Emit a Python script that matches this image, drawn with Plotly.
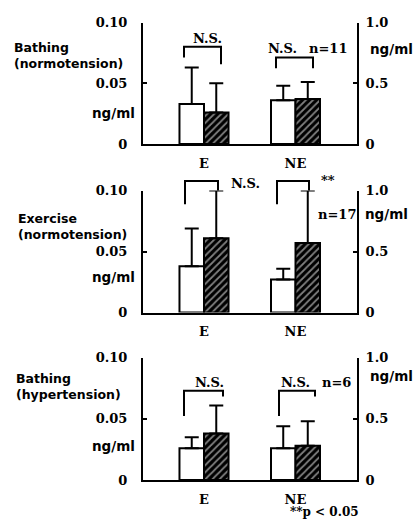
import plotly.graph_objects as go

W, H = 420, 526

# Plasma catecholamines before (open) and after (hatched) each stimulus
categories = ["E", "NE"]
panel_titles = [["Bathing", "(normotension)"],
                ["Exercise", "(normotension)"],
                ["Bathing", "(hypertension)"]]
n_labels = ["n=11", "n=17", "n=6"]

# E in ng/ml on the left scale (0-0.10), NE in ng/ml on the right scale (0-1.0)
e_before = [0.033, 0.038, 0.026]
e_before_sd = [0.030, 0.031, 0.009]
e_after = [0.026, 0.061, 0.038]
e_after_sd = [0.024, 0.039, 0.023]
ne_before = [0.36, 0.27, 0.26]
ne_before_sd = [0.12, 0.09, 0.18]
ne_after = [0.37, 0.57, 0.28]
ne_after_sd = [0.14, 0.43, 0.20]

sig_e = ["N.S.", "N.S.", "N.S."]
sig_ne = ["N.S.", "**", "N.S."]
footnote = "**p &lt; 0.05"

left_ticks = [0, 0.05, 0.10]
left_ticktext = ["0", "0.05", "0.10"]
right_ticks = [0, 0.5, 1.0]
right_ticktext = ["0", "0.5", "1.0"]

# pixel geometry of the three panels (top, bottom of the plotting area)
X0, X1 = 143, 357
panels_px = [(16, 141), (189, 314.5), (361, 487)]

SERIF = "DejaVu Serif"
SANS = "DejaVu Sans"


def fx(px):
    return px / W


def fy(py):
    return 1 - py / H


BAR_W = 0.268
fig = go.Figure()

for i in range(3):
    xa = "x" if i == 0 else f"x{i + 1}"
    yl = "y" if i == 0 else f"y{i + 1}"
    yr = f"y{i + 4}"
    specs = [
        (categories[0], e_before[i], e_before_sd[i], yl, False),
        (categories[0], e_after[i], e_after_sd[i], yl, True),
        (categories[1], ne_before[i], ne_before_sd[i], yr, False),
        (categories[1], ne_after[i], ne_after_sd[i], yr, True),
    ]
    for cat, val, sd, ya, hatched in specs:
        if hatched:
            pattern = dict(shape="/", fgcolor="white", bgcolor="black",
                           size=5, solidity=0.35)
        else:
            pattern = dict(shape="")
        fig.add_trace(go.Bar(
            x=[cat], y=[val], xaxis=xa, yaxis=ya,
            width=BAR_W, offset=0 if hatched else -BAR_W,
            marker=dict(color="white", line=dict(color="black", width=2),
                        pattern=pattern),
            error_y=dict(type="data", symmetric=False, array=[sd],
                         arrayminus=[0], color="black", thickness=2, width=7),
            showlegend=False, hoverinfo="skip",
        ))

layout = dict(
    width=W, height=H, margin=dict(l=0, r=0, t=0, b=0),
    paper_bgcolor="white", plot_bgcolor="white", showlegend=False,
    font=dict(family=SERIF, size=13, color="black"),
)

unit = 91.5
xrange = [(X0 - 204) / unit, 1 + (X1 - 295.5) / unit]
tick_font = dict(family=SERIF, size=13, color="black")

for i, (top, bot) in enumerate(panels_px):
    xk = "xaxis" if i == 0 else f"xaxis{i + 1}"
    ylk = "yaxis" if i == 0 else f"yaxis{i + 1}"
    yrk = f"yaxis{i + 4}"
    xa = "x" if i == 0 else f"x{i + 1}"
    yl = "y" if i == 0 else f"y{i + 1}"
    dom_y = [fy(bot), fy(top)]
    layout[xk] = dict(
        domain=[fx(X0), fx(X1)], anchor=yl, type="category",
        categoryorder="array", categoryarray=categories, range=xrange,
        showline=True, linecolor="black", linewidth=2, ticks="",
        showgrid=False, zeroline=False, ticklabelstandoff=6,
        tickfont=tick_font, tickprefix="<b>", ticksuffix="</b>",
    )
    layout[ylk] = dict(
        domain=dom_y, anchor=xa, range=[0, 0.10],
        tickvals=left_ticks, ticktext=[f"<b>{t}</b>" for t in left_ticktext],
        showline=True, linecolor="black", linewidth=2,
        ticks="inside", ticklen=4, tickwidth=2, tickcolor="black",
        showgrid=False, zeroline=False, ticklabelstandoff=11,
        tickfont=tick_font,
    )
    layout[yrk] = dict(
        overlaying=yl, side="right", anchor=xa, range=[0, 1.0],
        tickvals=right_ticks, ticktext=[f"<b>{t}</b>" for t in right_ticktext],
        showline=True, linecolor="black", linewidth=2,
        ticks="inside", ticklen=4, tickwidth=2, tickcolor="black",
        showgrid=False, zeroline=False, ticklabelstandoff=4,
        tickfont=tick_font,
    )

fig.update_layout(**layout)

annotations = []
shapes = []


def text(px, py, s, anchor="center", size=13, family=SERIF, align="left"):
    annotations.append(dict(
        x=fx(px), y=fy(py), xref="paper", yref="paper", text=s,
        showarrow=False, xanchor=anchor, yanchor="middle", align=align,
        font=dict(family=family, size=size, color="black", weight="bold"),
    ))


def bracket(x_left, x_right, y_top, y_left, y_right):
    path = (f"M {fx(x_left)} {fy(y_left)} L {fx(x_left)} {fy(y_top)} "
            f"L {fx(x_right)} {fy(y_top)} L {fx(x_right)} {fy(y_right)}")
    shapes.append(dict(type="path", path=path, xref="paper", yref="paper",
                       line=dict(color="black", width=2)))


# panel titles (two lines) and units
title_pos = [(12, 50), (16, 226), (14, 391)]
unit_left_y = [109, 278, 452]
unit_right = [(368, 43), (363, 213), (368, 380)]
for i in range(3):
    x, y = title_pos[i]
    text(x, y, "<br>".join(panel_titles[i]), "left", size=12.5, family=SANS)
    text(137, unit_left_y[i], "ng/ml", "right", size=13.5, family=SANS)
    ux, uy = unit_right[i]
    text(ux, uy, "ng/ml", "left", size=13.5, family=SANS)

# significance brackets
bracket(184, 221, 41, 52, 59)
text(207, 32, sig_e[0])
bracket(276, 313, 52, 63, 63)
text(282, 43, sig_ne[0])
text(328, 43, n_labels[0])

bracket(185, 218, 179, 203, 189)
text(245, 182, sig_e[1])
bracket(277, 309, 179, 203, 189)
text(328, 179, sig_ne[1])
text(337, 214, n_labels[1])

bracket(184, 223, 395, 421, 401)
text(209, 387, sig_e[2])
bracket(279, 315, 395, 421, 401)
text(295, 387, sig_ne[2])
text(336, 387, n_labels[2])

text(288, 520, footnote, "left", size=12)

fig.update_layout(annotations=annotations, shapes=shapes)
fig.write_html("out.html")
